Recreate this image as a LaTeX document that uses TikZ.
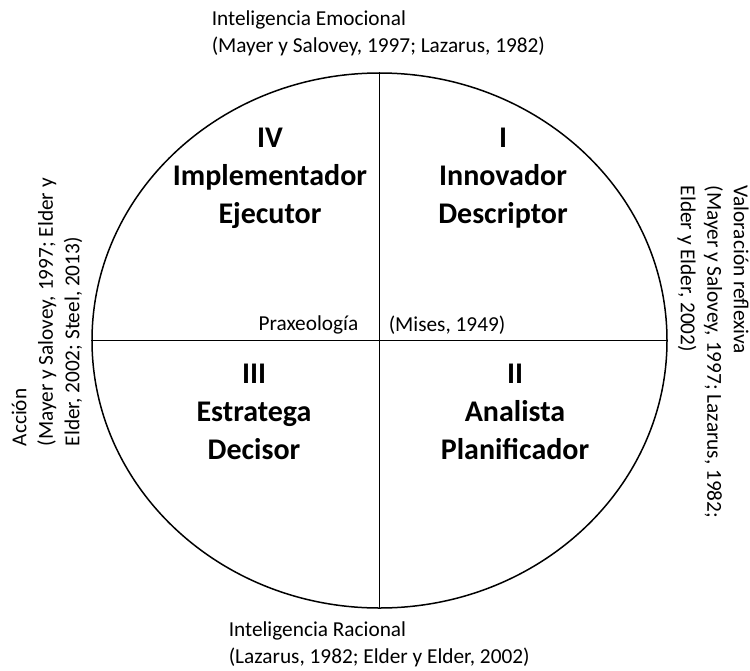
\documentclass[tikz,border=0pt]{standalone}
\usepackage{fontspec}
\setmainfont{Carlito}
\usetikzlibrary{shapes.geometric}

\tikzset{
	quad/.style={align=center, font=\bfseries\fontsize{30}{38}\selectfont},
	cite/.style={align=left, inner sep=0pt, font=\fontsize{21.3}{26.5}\selectfont},
}

\begin{document}
\begin{tikzpicture}[x=1pt,y=-1pt,line width=1.5pt]
	\useasboundingbox (0,0) rectangle (750,670);

	% Circle and axes
	\node[draw, ellipse, inner sep=0pt, minimum width=575pt, minimum height=535pt] (circ) at (379.5,340.5) {};
	\draw (circ.north) -- (circ.south);
	\draw (circ.west) -- (circ.east);

	% Quadrants
	\node[quad] (q1) at (503,178) {I\\Innovador\\Descriptor};
	\node[quad] (q2) at (515,412) {II\\Analista\\Planificador};
	\node[quad] (q3) at (254,412) {III\\Estratega\\Decisor};
	\node[quad] (q4) at (270,178) {IV\\Implementador\\Ejecutor};

	% Centre labels
	\node[cite, anchor=east] (prax) at (359,325) {Praxeología};
	\node[cite, anchor=west] (mises) at (388,325) {(Mises, 1949)};

	% Axis labels
	\node[cite, anchor=west] (top) at (211,33.5) {Inteligencia Emocional\\(Mayer y Salovey, 1997; Lazarus, 1982)};
	\node[cite, anchor=west] (bottom) at (228,644.5) {Inteligencia Racional\\(Lazarus, 1982; Elder y Elder, 2002)};
	\node[cite, anchor=west, rotate=90] (left) at (47,447) {Acción\\(Mayer y Salovey, 1997; Elder y\\Elder, 2002; Steel, 2013)};
	\node[cite, anchor=west, rotate=-90] (right) at (713,185) {Valoración reflexiva\\(Mayer y Salovey, 1997; Lazarus, 1982;\\Elder y Elder, 2002)};

\end{tikzpicture}
\end{document}
